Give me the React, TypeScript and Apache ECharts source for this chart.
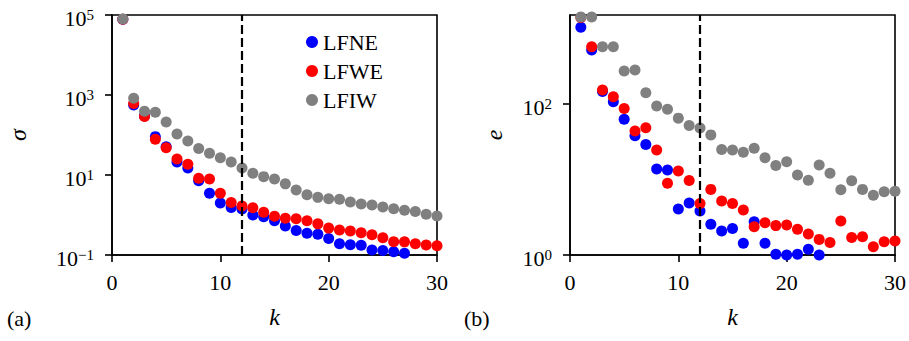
import React, { useEffect, useRef } from "react";
import * as echarts from "echarts";

const FONT = "'Liberation Serif', 'Times New Roman', serif";

// k values (x categories)
const K = [1, 2, 3, 4, 5, 6, 7, 8, 9, 10, 11, 12, 13, 14, 15, 16, 17, 18, 19, 20, 21, 22, 23, 24, 25, 26, 27, 28, 29, 30];

// panel (a): sigma
const SIGMA_LFNE = [78000, 560, 300, 91, 51, 21, 15, 7.2, 3.5, 2.0, 1.55, 1.41, 1.0, 0.91, 0.72, 0.53, 0.41, 0.35, 0.33, 0.26, 0.19, 0.18, 0.175, 0.133, 0.129, 0.12, 0.11, 0.092, 0.08, 0.07];
const SIGMA_LFWE = [78000, 610, 290, 78, 48, 25, 18.5, 8.3, 7.9, 3.5, 2.05, 1.68, 1.52, 1.17, 0.93, 0.83, 0.81, 0.72, 0.6, 0.47, 0.42, 0.4, 0.36, 0.32, 0.27, 0.215, 0.213, 0.19, 0.178, 0.17];
const SIGMA_LFIW = [80000, 830, 390, 370, 210, 106, 71, 46, 35, 27, 21, 15, 11, 9.1, 7.9, 6.0, 4.2, 3.2, 2.76, 2.56, 2.47, 2.1, 1.88, 1.78, 1.58, 1.43, 1.31, 1.22, 1.05, 0.94];

// panel (b): e
const E_LFNE = [1040, 519, 146, 107, 63, 38, 29, 13.8, 13.4, 4.07, 4.9, 3.83, 2.55, 2.08, 2.25, 1.43, 2.76, 1.43, 1.02, 1.0, 1.02, 1.19, 1.0, 0.8, 0.7, 0.75, 0.6, 0.65, 0.55, 0.6];
const E_LFWE = [1400, 575, 153, 125, 87, 44, 48.5, 24.6, 8.9, 13, 9.7, 4.8, 7.4, 5.2, 4.8, 3.95, 2.37, 2.68, 2.45, 2.5, 2.19, 1.9, 1.61, 1.46, 2.82, 1.71, 1.75, 1.29, 1.5, 1.53];
const E_LFIW = [1420, 1420, 575, 575, 273, 282, 141, 94, 85, 65, 52, 48, 39, 25, 24.6, 23, 25.9, 19.4, 15.3, 17.2, 11.5, 9.8, 15.6, 12.1, 7.3, 9.6, 7.4, 6.2, 6.9, 7.0];

const SERIES_NAMES = ["LFNE", "LFWE", "LFIW"];
const COLORS = ["#0000ff", "#ff0000", "#808080"];

// axes: exponents of the decade ticks
const SIGMA_EXP_MIN = -1;
const SIGMA_EXP_MAX = 5;
const SIGMA_TICKS = [-1, 1, 3, 5];
const E_MIN = 1;
const E_MAX = 1510;
const E_TICKS = [0, 2];
const X_TICKS = [0, 10, 20, 30];
const K_CUT = 12;

const toPoints = (vals: number[]) => K.map((k, i) => [k, Math.log10(vals[i])]);

const powLabel = (v: number) => {
  const r = Math.round(v);
  if (Math.abs(v - r) > 1e-6) return "";
  const exp = r < 0 ? "\u2212" + -r : String(r);
  return `{b|10}{s|${exp}}`;
};

const rich = {
  b: { fontSize: 22, fontFamily: FONT, color: "#000", lineHeight: 22, verticalAlign: "bottom" },
  s: { fontSize: 15, fontFamily: FONT, color: "#000", lineHeight: 14, verticalAlign: "top" },
};

const axisLine = { show: true, onZero: false, lineStyle: { color: "#000", width: 1.6 } };
const tickStyle = { color: "#000", width: 1.6 };

export default function App() {
  const ref = useRef<HTMLDivElement>(null);

  useEffect(() => {
    if (!ref.current) return;
    const chart = echarts.init(ref.current, undefined, { renderer: "svg" });

    const grids = [
      { left: 112, top: 15, width: 325, height: 240 },
      { left: 570, top: 15, width: 325, height: 240 },
    ];

    const xAxis = [0, 1].map((i) => ({
      type: "value",
      gridIndex: i,
      min: 0,
      max: 30,
      interval: 10,
      axisLine,
      axisTick: { show: true, inside: false, length: 7, lineStyle: tickStyle, customValues: X_TICKS },
      axisLabel: { margin: 16, fontSize: 22, fontFamily: FONT, color: "#000", customValues: X_TICKS },
      splitLine: { show: false },
      name: "k",
      nameLocation: "middle",
      nameGap: 50,
      nameTextStyle: { fontSize: 24, fontStyle: "italic", fontFamily: FONT, color: "#000" },
    }));

    const yAxis = [
      {
        type: "value",
        gridIndex: 0,
        min: SIGMA_EXP_MIN,
        max: SIGMA_EXP_MAX,
        axisLine,
        axisTick: { show: true, inside: false, length: 7, lineStyle: tickStyle, customValues: SIGMA_TICKS },
        axisLabel: { margin: 18, formatter: powLabel, rich, customValues: SIGMA_TICKS, padding: [6, 0, 0, 0] },
        splitLine: { show: false },
        name: "σ",
        nameLocation: "middle",
        nameGap: 82,
        nameTextStyle: { fontSize: 24, fontStyle: "italic", fontFamily: FONT, color: "#000" },
      },
      {
        type: "value",
        gridIndex: 1,
        min: Math.log10(E_MIN),
        max: Math.log10(E_MAX),
        axisLine,
        axisTick: { show: true, inside: false, length: 7, lineStyle: tickStyle, customValues: E_TICKS },
        axisLabel: { margin: 18, formatter: powLabel, rich, customValues: E_TICKS, padding: [6, 0, 0, 0] },
        splitLine: { show: false },
        name: "e",
        nameLocation: "middle",
        nameGap: 64,
        nameTextStyle: { fontSize: 24, fontStyle: "italic", fontFamily: FONT, color: "#000" },
      },
    ];

    const dashed = {
      silent: true,
      symbol: "none",
      label: { show: false },
      lineStyle: { color: "#000", type: [9, 4], width: 2.2 },
      data: [{ xAxis: K_CUT }],
    };

    const sigmaSets = [SIGMA_LFNE, SIGMA_LFWE, SIGMA_LFIW];
    const eSets = [E_LFNE, E_LFWE, E_LFIW];
    const series: any[] = [];
    sigmaSets.forEach((vals, i) => {
      series.push({
        type: "scatter",
        name: SERIES_NAMES[i],
        xAxisIndex: 0,
        yAxisIndex: 0,
        data: toPoints(vals),
        symbolSize: 11,
        itemStyle: { color: COLORS[i], opacity: 1 },
        ...(i === 2 ? { markLine: dashed } : {}),
      });
    });
    eSets.forEach((vals, i) => {
      series.push({
        type: "scatter",
        name: SERIES_NAMES[i],
        xAxisIndex: 1,
        yAxisIndex: 1,
        data: toPoints(vals),
        symbolSize: 11,
        itemStyle: { color: COLORS[i], opacity: 1 },
        ...(i === 2 ? { markLine: dashed } : {}),
      });
    });

    chart.setOption({
      animation: false,
      backgroundColor: "#fff",
      grid: grids.map((g) => ({ ...g, show: true, borderColor: "#000", borderWidth: 1.6, backgroundColor: "transparent" })),
      xAxis,
      yAxis,
      legend: {
        orient: "vertical",
        left: 306,
        top: 31,
        padding: 0,
        itemGap: 7,
        itemWidth: 12,
        itemHeight: 12,
        icon: "circle",
        textStyle: { fontSize: 22, fontFamily: FONT, color: "#000", lineHeight: 22 },
        data: SERIES_NAMES,
      },
      graphic: [
        { type: "text", left: 7, top: 307, style: { text: "(a)", font: `22px ${FONT}`, fill: "#000" } },
        { type: "text", left: 464, top: 307, style: { text: "(b)", font: `22px ${FONT}`, fill: "#000" } },
      ],
      series,
    });

    return () => chart.dispose();
  }, []);

  return <div ref={ref} style={{ position: "absolute", left: 0, top: 0, width: 909, height: 341 }} />;
}
